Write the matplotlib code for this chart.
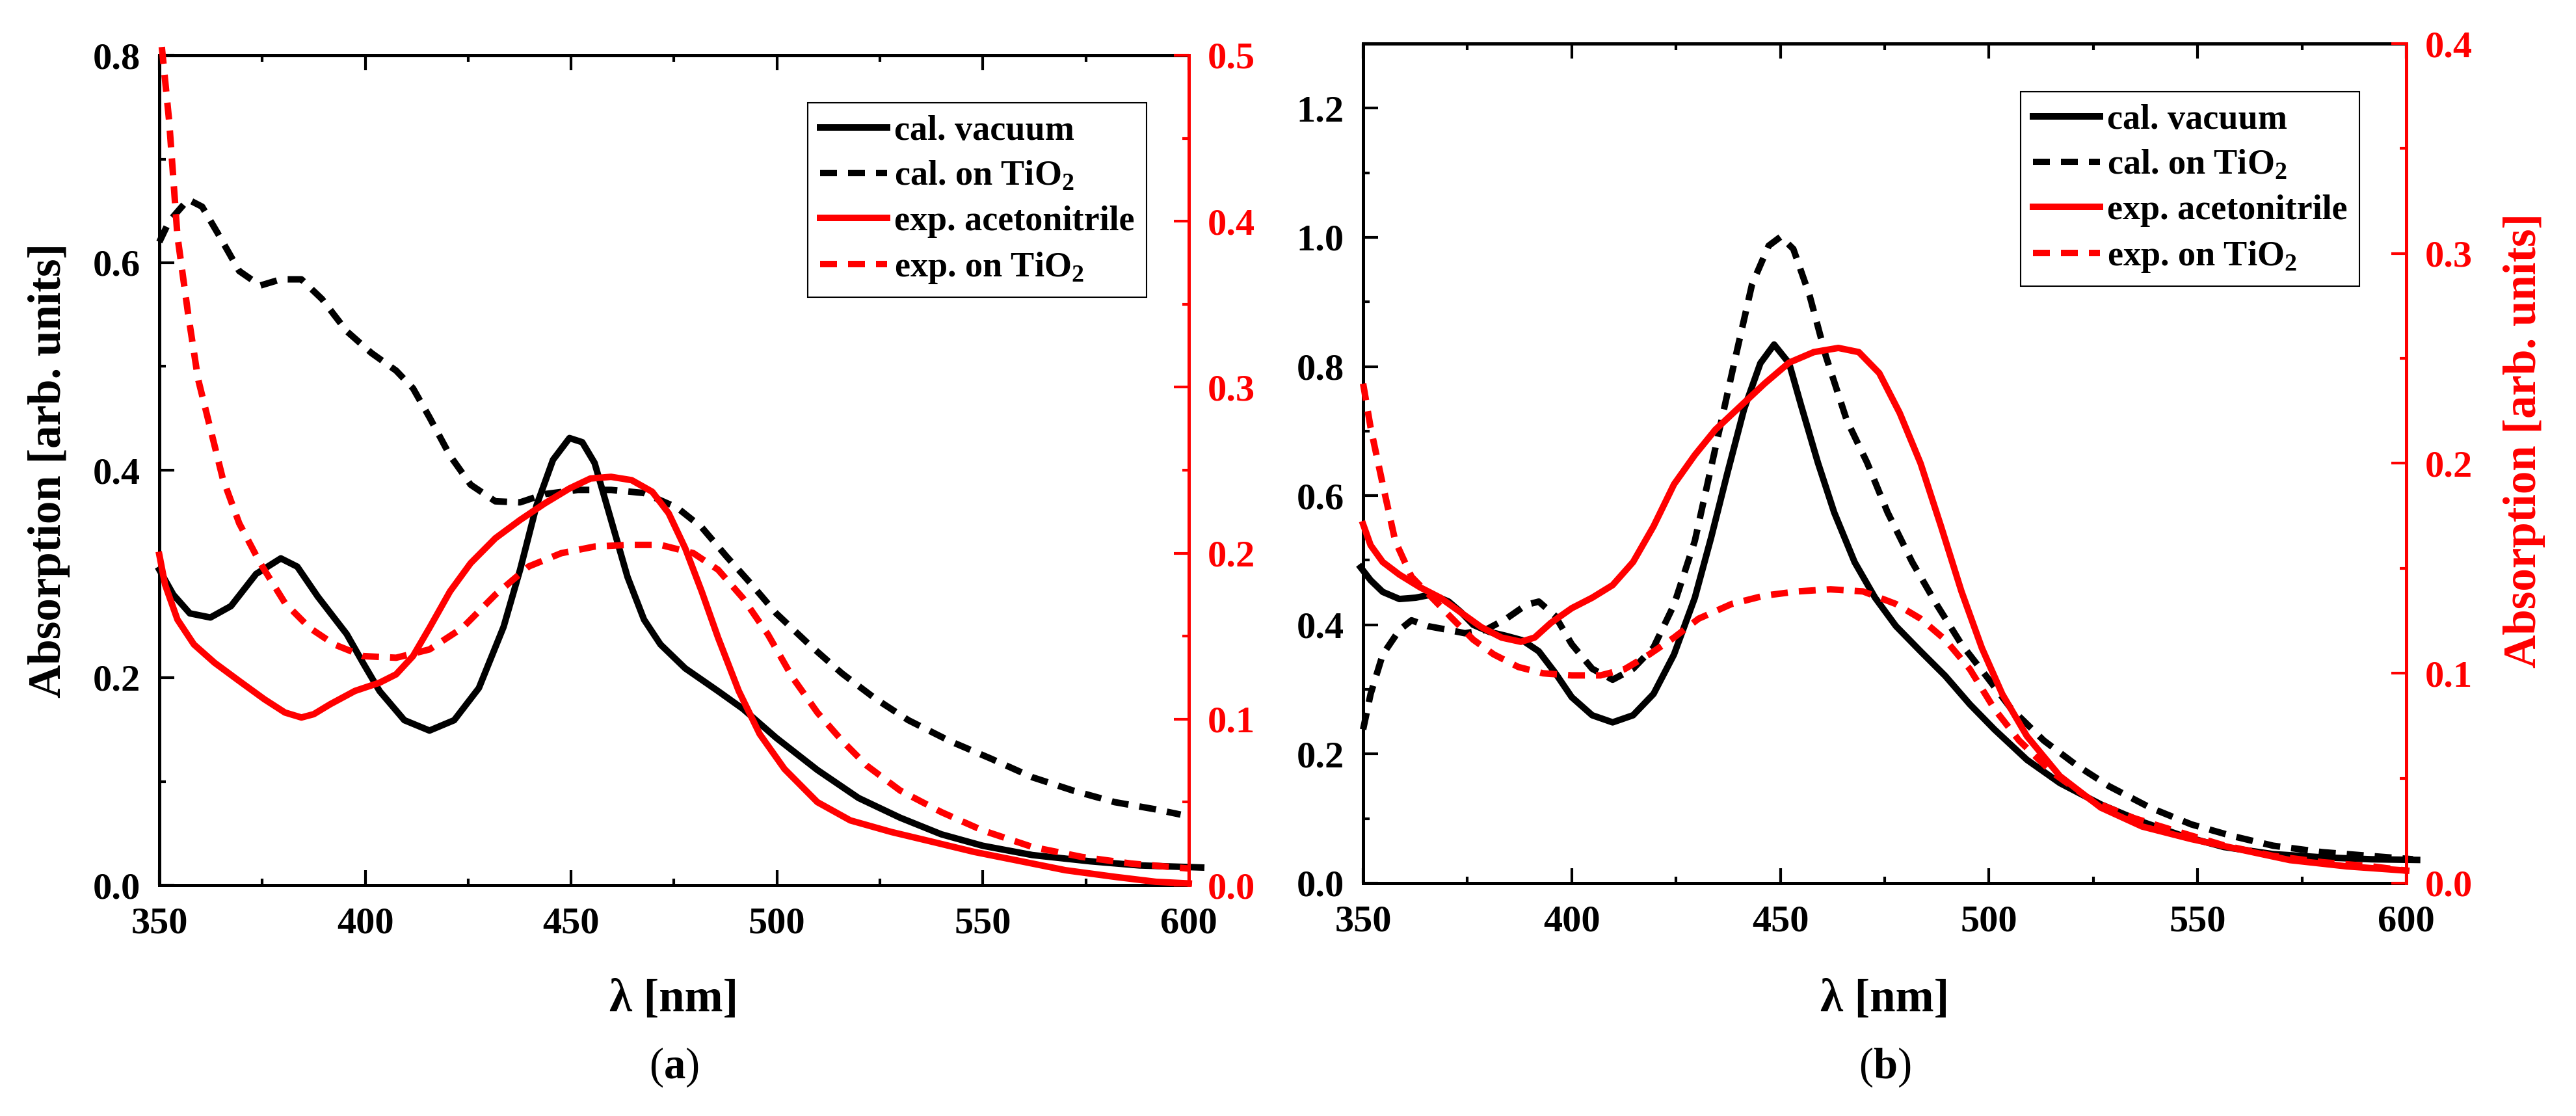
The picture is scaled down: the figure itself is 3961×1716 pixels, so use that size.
import matplotlib
matplotlib.use('Agg')
import matplotlib.pyplot as plt
from matplotlib.ticker import MultipleLocator, FormatStrFormatter

plt.rcParams['font.family'] = ['Liberation Serif', 'DejaVu Serif']
plt.rcParams['font.weight'] = 'bold'
plt.rcParams['axes.labelweight'] = 'bold'
plt.rcParams['mathtext.fontset'] = 'custom'
plt.rcParams['mathtext.rm'] = 'Liberation Serif'
plt.rcParams['mathtext.bf'] = 'Liberation Serif:bold'

# ---- panel (a) ----
a_vac_x = [350, 353.4, 357.4, 362.4, 367.4, 373.5, 379.5, 383.5, 388.5, 395.5, 399.5, 403.5,
           409.5, 415.6, 421.6, 427.6, 433.6, 437.6, 441.6, 445.6, 449.6, 452.7, 455.7, 459.7,
           463.7, 467.7, 471.7, 477.7, 485.7, 491.7, 499.8, 509.8, 519.8, 529.9, 539.9, 549.9,
           562, 576, 588, 603]
a_vac_y = [0.304, 0.28, 0.262, 0.258, 0.269, 0.30, 0.315, 0.307, 0.278, 0.242, 0.214, 0.187,
           0.159, 0.149, 0.159, 0.19, 0.249, 0.304, 0.366, 0.41, 0.431, 0.427, 0.407, 0.352,
           0.297, 0.256, 0.232, 0.209, 0.187, 0.17, 0.142, 0.111, 0.084, 0.065, 0.049, 0.038,
           0.029, 0.023, 0.019, 0.017]

a_tio_x = [350, 352.4, 357, 360.4, 364.4, 369.4, 374.5, 379.5, 384.5, 389.5, 395.5, 401.5,
           407.5, 411.6, 415.6, 420.6, 425.6, 431.6, 437.6, 443.6, 451.6, 459.7, 467.7, 475.7,
           481.7, 487.7, 493.8, 499.8, 507.8, 515.8, 523.8, 531.9, 541.9, 551.9, 562, 572,
           582, 592, 598]
a_tio_y = [0.62, 0.64, 0.661, 0.654, 0.627, 0.592, 0.578, 0.584, 0.584, 0.565, 0.534, 0.513,
           0.496, 0.479, 0.451, 0.414, 0.386, 0.37, 0.369, 0.377, 0.381, 0.381, 0.378, 0.364,
           0.345, 0.317, 0.29, 0.262, 0.232, 0.204, 0.18, 0.159, 0.139, 0.122, 0.104, 0.091,
           0.08, 0.073, 0.068]

a_acn_x = [350, 351.4, 354.4, 358.4, 363.4, 369.4, 375.5, 380.5, 384.5, 387.5, 391.5, 397.5,
           403.5, 407.5, 411.6, 415.6, 420.6, 425.6, 431.6, 437.6, 443.6, 449.6, 454.7, 459.7,
           464.7, 469.7, 473.7, 477.7, 481.7, 485.7, 490.7, 495.8, 501.8, 509.8, 517.8, 527.8,
           537.9, 547.9, 558, 570, 582, 592, 600]
a_acn_y = [0.199, 0.181, 0.16, 0.145, 0.134, 0.123, 0.112, 0.104, 0.101, 0.103, 0.109, 0.117,
           0.122, 0.127, 0.138, 0.155, 0.177, 0.194, 0.209, 0.22, 0.23, 0.239, 0.245, 0.246,
           0.244, 0.237, 0.224, 0.203, 0.177, 0.149, 0.117, 0.091, 0.07, 0.05, 0.039, 0.032,
           0.026, 0.02, 0.015, 0.009, 0.005, 0.002, 0.001]

a_exp_tio_x = [350.6, 352.4, 354.4, 357, 359.4, 362.4, 365.4, 369.4, 374.5, 380.5, 386.5, 392.5,
               399.5, 407.5, 415.6, 423.6, 431.6, 439.7, 447.6, 455.7, 463.7, 471.7, 479.7, 485.7,
               491.7, 497.8, 503.8, 509.8, 515.8, 521.8, 529.9, 539.9, 549.9, 562, 574, 586, 600]
a_exp_tio_y = [0.505, 0.46, 0.391, 0.344, 0.305, 0.275, 0.245, 0.218, 0.194, 0.17, 0.155, 0.145,
               0.138, 0.137, 0.142, 0.155, 0.175, 0.192, 0.2, 0.204, 0.205, 0.205, 0.2, 0.19,
               0.173, 0.151, 0.125, 0.104, 0.087, 0.072, 0.057, 0.044, 0.033, 0.023, 0.017, 0.013,
               0.010]

# ---- panel (b) ----
b_vac_x = [349.4, 351.8, 354.7, 358.7, 362.6, 366.5, 370.5, 373.4, 376.4, 380.3, 384.2, 388.2,
           392.1, 396, 400, 404.9, 409.8, 414.7, 419.6, 424.5, 429.5, 433.4, 437.3, 441.3,
           445.2, 448.5, 452.1, 455, 459, 462.9, 467.8, 472.7, 477.7, 483.6, 489.5, 495.4,
           501.3, 509.1, 517, 526.8, 536.7, 546.5, 556.3, 568.1, 579.9, 591.7, 602.6]
b_vac_y = [0.489, 0.469, 0.451, 0.44, 0.442, 0.447, 0.436, 0.42, 0.40, 0.389, 0.383, 0.376,
           0.359, 0.326, 0.288, 0.26, 0.249, 0.26, 0.293, 0.354, 0.442, 0.535, 0.635, 0.734,
           0.805, 0.834, 0.805, 0.739, 0.651, 0.574, 0.497, 0.442, 0.398, 0.359, 0.321, 0.277,
           0.238, 0.191, 0.155, 0.122, 0.095, 0.073, 0.056, 0.045, 0.04, 0.037, 0.036]

b_tio_x = [350, 351.8, 354.7, 358.7, 361.6, 365.5, 370.5, 374.4, 379.3, 384.2, 389.1, 392.1,
           396, 400, 404.9, 409.8, 414.7, 419.6, 424.5, 429.5, 434.4, 439.3, 443.2, 447.2,
           450.1, 453.1, 457, 460.9, 465.9, 470.8, 475.7, 481.6, 487.5, 493.4, 499.3, 505.2,
           513.1, 520.9, 528.8, 538.6, 548.5, 558.3, 568.1, 579.9, 591.7, 601.6]
b_tio_y = [0.238, 0.293, 0.354, 0.392, 0.407, 0.398, 0.392, 0.387, 0.392, 0.409, 0.431, 0.436,
           0.414, 0.37, 0.332, 0.315, 0.332, 0.365, 0.431, 0.53, 0.673, 0.816, 0.927, 0.987,
           1.001, 0.982, 0.91, 0.816, 0.717, 0.651, 0.574, 0.497, 0.431, 0.37, 0.321, 0.271,
           0.221, 0.183, 0.15, 0.117, 0.091, 0.073, 0.058, 0.048, 0.042, 0.037]

b_acn_x = [350, 351.8, 354.7, 358.7, 363.6, 368.5, 373.4, 378.3, 383.2, 387.8, 391.1, 395,
           400, 404.9, 409.8, 414.7, 419.6, 424.5, 429.5, 434.4, 440.3, 446.2, 452.1, 458,
           463.9, 468.8, 473.7, 478.6, 483.6, 488.5, 493.4, 498.3, 503.2, 509.1, 517, 526.8,
           536.7, 548.5, 560.3, 572.1, 585.8, 600]
b_acn_y = [0.171, 0.161, 0.153, 0.147, 0.141, 0.136, 0.129, 0.122, 0.117, 0.115, 0.117, 0.124,
           0.131, 0.136, 0.142, 0.153, 0.17, 0.19, 0.204, 0.216, 0.227, 0.238, 0.248, 0.253,
           0.255, 0.253, 0.243, 0.224, 0.20, 0.17, 0.139, 0.112, 0.09, 0.07, 0.051, 0.036,
           0.027, 0.021, 0.016, 0.011, 0.008, 0.006]

b_exp_tio_x = [350, 351.8, 354.7, 357.7, 361.6, 366.5, 371.4, 376.4, 381.3, 387.2, 393.1, 400,
               406.9, 412.7, 418.6, 424.5, 430.4, 438.3, 446.2, 454.1, 462, 469.8, 477.7, 483.6,
               489.5, 495.4, 501.3, 507.2, 515, 524.9, 534.7, 544.5, 556.3, 568.1, 579.9, 591.7, 600]
b_exp_tio_y = [0.238, 0.217, 0.19, 0.163, 0.146, 0.136, 0.126, 0.116, 0.109, 0.103, 0.10, 0.099,
               0.099, 0.102, 0.109, 0.117, 0.126, 0.133, 0.137, 0.139, 0.14, 0.139, 0.133, 0.126,
               0.116, 0.102, 0.083, 0.068, 0.053, 0.039, 0.031, 0.025, 0.018, 0.013, 0.01, 0.008,
               0.006]

labels = ['cal. vacuum', r'cal. on TiO$_{\mathbf{2}}$', 'exp. acetonitrile', r'exp. on TiO$_{\mathbf{2}}$']

LW = 2.4
DASH = (2.6, 1.7)
RED = '#ff0000'


def style_axes(ax, ax2, ymax, ymaj, ymax2):
    ax.set_xlim(350, 600)
    ax.set_ylim(0, ymax)
    ax2.set_ylim(0, ymax2)
    ax.xaxis.set_major_locator(MultipleLocator(50))
    ax.xaxis.set_minor_locator(MultipleLocator(25))
    ax.yaxis.set_major_locator(MultipleLocator(ymaj))
    ax.yaxis.set_minor_locator(MultipleLocator(ymaj / 2))
    ax.yaxis.set_major_formatter(FormatStrFormatter('%.1f'))
    ax2.yaxis.set_major_locator(MultipleLocator(0.1))
    ax2.yaxis.set_minor_locator(MultipleLocator(0.05))
    ax2.yaxis.set_major_formatter(FormatStrFormatter('%.1f'))
    for s in ax.spines.values():
        s.set_linewidth(1.2)
    for k in ['left', 'top', 'bottom']:
        ax2.spines[k].set_visible(False)
    ax2.spines['right'].set_color(RED)
    ax2.spines['right'].set_linewidth(1.2)
    ax.tick_params(axis='x', which='both', direction='in', top=True, labelsize=14, pad=8, width=1.0)
    ax.tick_params(axis='y', which='both', direction='in', right=False, labelsize=14, pad=7, width=1.0)
    ax.tick_params(which='major', length=5.5)
    ax.tick_params(which='minor', length=2.5)
    ax2.tick_params(axis='y', which='both', direction='in', colors=RED, labelsize=14, pad=7, width=1.0)
    ax2.tick_params(which='major', length=5.5)
    ax2.tick_params(which='minor', length=2.5)
    ax.set_xlabel(r'λ [nm]', fontsize=17, va='center')


def legend_for(ax, handles, x, y):
    leg = ax.legend(handles, labels, loc='upper left',
                    bbox_to_anchor=(x, y), bbox_transform=fig.transFigure,
                    fontsize=13, frameon=True, fancybox=False, edgecolor='k', framealpha=1,
                    borderpad=0.35, borderaxespad=0, handlelength=1.9, handletextpad=0.2,
                    labelspacing=0.35)
    leg.get_frame().set_linewidth(0.5)
    return leg


fig = plt.figure(figsize=(3961 / 300, 1716 / 300), dpi=300)

axa = fig.add_axes([245 / 3961, 1 - 1361 / 1716, (1828 - 245) / 3961, (1361 - 85) / 1716])
axa2 = axa.twinx()
h1, = axa.plot(a_vac_x, a_vac_y, color='k', lw=LW, clip_on=False)
h2, = axa.plot(a_tio_x, a_tio_y, color='k', lw=LW, dashes=DASH, clip_on=False)
h3, = axa2.plot(a_acn_x, a_acn_y, color=RED, lw=LW, clip_on=False)
h4, = axa2.plot(a_exp_tio_x, a_exp_tio_y, color=RED, lw=LW, dashes=DASH, clip_on=False)
style_axes(axa, axa2, 0.8, 0.2, 0.5)
axa.set_ylabel('Absorption [arb. units]', fontsize=17, va='center')
axa.yaxis.set_label_coords(-0.107, 0.5)
axa.xaxis.set_label_coords(0.5, -0.138)
legend_for(axa2, [h1, h2, h3, h4], 1242 / 3961, 1 - 158 / 1716)

axb = fig.add_axes([2096 / 3961, 1 - 1358 / 1716, (3700 - 2096) / 3961, (1358 - 67) / 1716])
axb2 = axb.twinx()
g1, = axb.plot(b_vac_x, b_vac_y, color='k', lw=LW, clip_on=False)
g2, = axb.plot(b_tio_x, b_tio_y, color='k', lw=LW, dashes=DASH, clip_on=False)
g3, = axb2.plot(b_acn_x, b_acn_y, color=RED, lw=LW, clip_on=False)
g4, = axb2.plot(b_exp_tio_x, b_exp_tio_y, color=RED, lw=LW, dashes=DASH, clip_on=False)
style_axes(axb, axb2, 1.3, 0.2, 0.4)
axb2.set_ylabel('Absorption [arb. units]', fontsize=17, color=RED, va='center')
axb2.yaxis.set_label_coords(1.113, 0.527)
axb.xaxis.set_label_coords(0.5, -0.139)
legend_for(axb2, [g1, g2, g3, g4], 3107 / 3961, 1 - 141 / 1716)

fig.text(1036 / 3961, 1 - 1641 / 1716, r'(${\mathbf{a}}$)', fontsize=16, fontweight='normal',
         ha='center', va='center')
fig.text(2898 / 3961, 1 - 1641 / 1716, r'(${\mathbf{b}}$)', fontsize=16, fontweight='normal',
         ha='center', va='center')

fig.savefig('out.png', dpi=300)
